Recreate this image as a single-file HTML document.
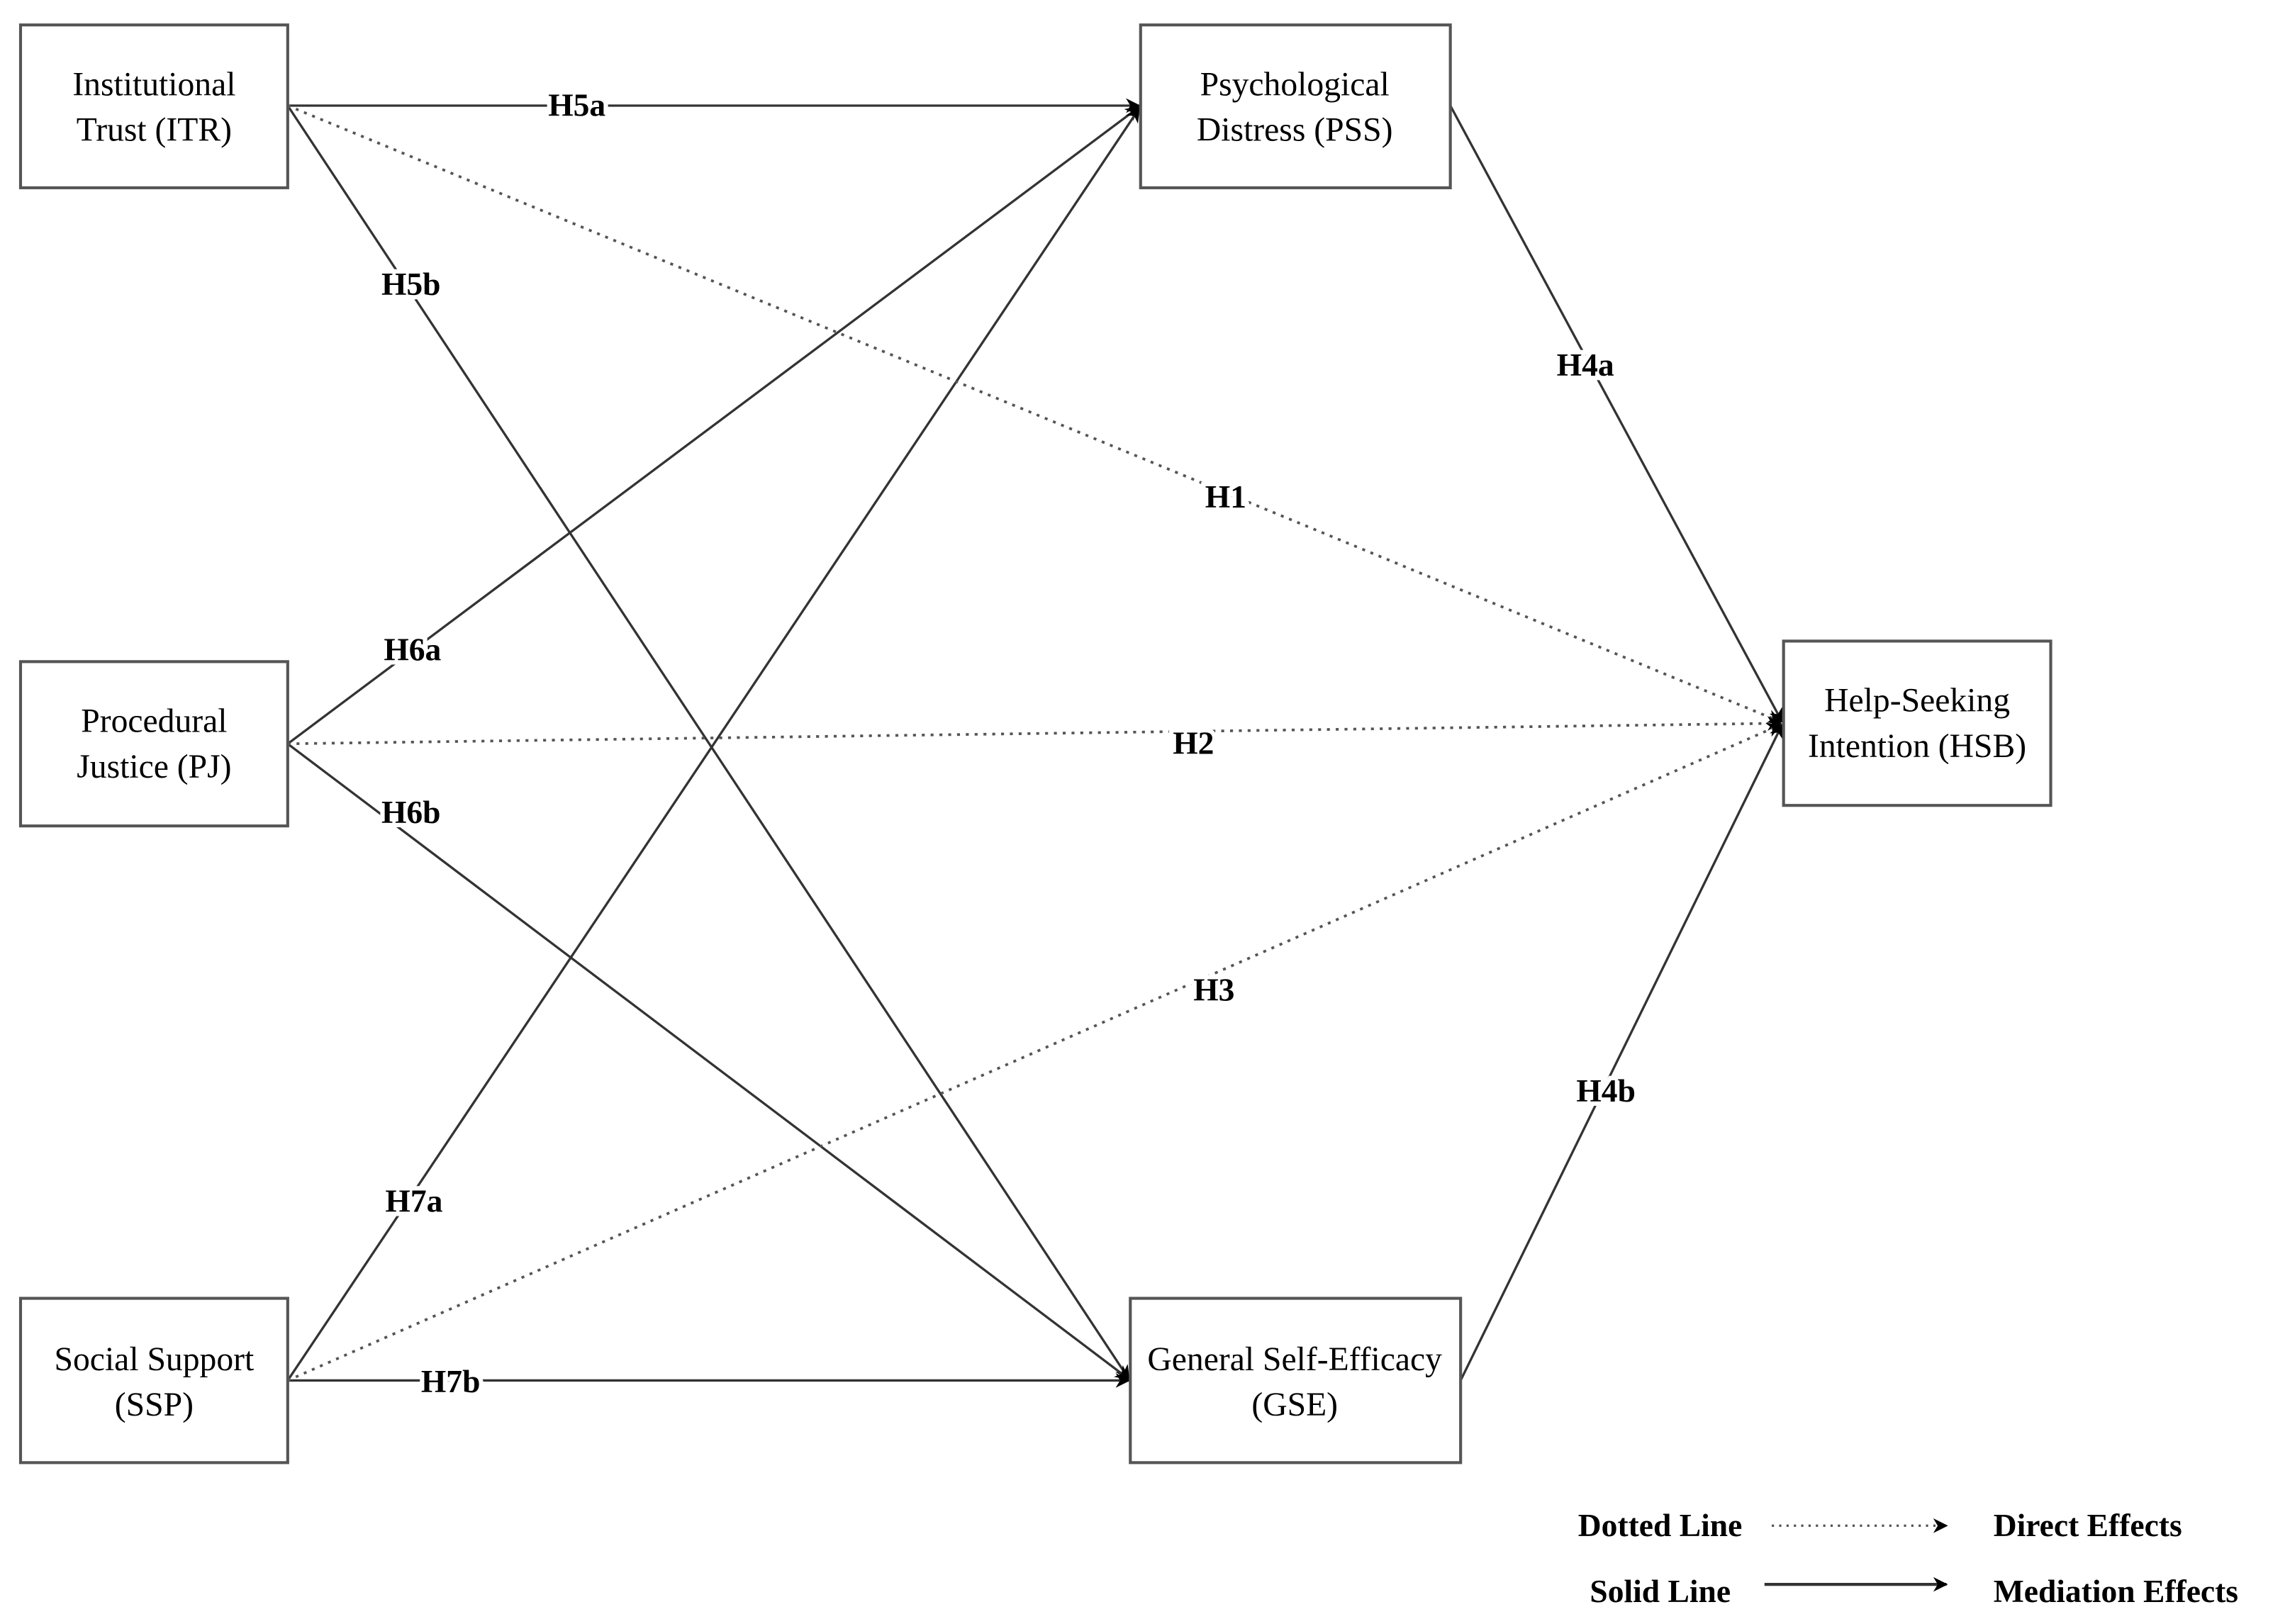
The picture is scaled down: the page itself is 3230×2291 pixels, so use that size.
<!DOCTYPE html>
<html><head><meta charset="utf-8"><style>html,body{margin:0;padding:0;background:#fff}svg{display:block}</style></head>
<body>
<svg width="3230" height="2291" viewBox="0 0 1560 1107" preserveAspectRatio="none" xmlns="http://www.w3.org/2000/svg" font-family="'Liberation Serif', serif">
<defs>
<marker id="a" markerWidth="10" markerHeight="10" refX="9" refY="5" orient="auto" markerUnits="userSpaceOnUse"><path d="M0,0 L10,5 L0,10 L3,5 Z" fill="#000"/></marker>
</defs>
<g fill="none" stroke="#333" stroke-width="1.6">
<line x1="196" y1="72" x2="776" y2="72" marker-end="url(#a)"/>
<line x1="196" y1="72" x2="769" y2="940" marker-end="url(#a)"/>
<line x1="196" y1="507" x2="776" y2="73" marker-end="url(#a)"/>
<line x1="196" y1="507" x2="769" y2="940" marker-end="url(#a)"/>
<line x1="196" y1="941" x2="776" y2="74" marker-end="url(#a)"/>
<line x1="196" y1="941" x2="769" y2="941" marker-end="url(#a)"/>
<line x1="988" y1="72" x2="1214" y2="492" marker-end="url(#a)"/>
<line x1="995" y1="941" x2="1214" y2="494" marker-end="url(#a)"/>
</g>
<g fill="none" stroke="#555" stroke-width="1.8" stroke-dasharray="2,4">
<line x1="196" y1="72" x2="1213" y2="492" marker-end="url(#a)"/>
<line x1="196" y1="507" x2="1213" y2="493" marker-end="url(#a)"/>
<line x1="196" y1="941" x2="1213" y2="494" marker-end="url(#a)"/>
</g>
<g fill="#fff" stroke="#555" stroke-width="2">
<rect x="14" y="17" width="182" height="111"/>
<rect x="777" y="17" width="211" height="111"/>
<rect x="14" y="451" width="182" height="112"/>
<rect x="1215" y="437" width="182" height="112"/>
<rect x="14" y="885" width="182" height="112"/>
<rect x="770" y="885" width="225" height="112"/>
</g>
<g font-size="23" text-anchor="middle" fill="#000">
<text x="105" y="65">Institutional</text><text x="105" y="96">Trust (ITR)</text>
<text x="882" y="65">Psychological</text><text x="882" y="96">Distress (PSS)</text>
<text x="105" y="499">Procedural</text><text x="105" y="530">Justice (PJ)</text>
<text x="1306" y="485">Help-Seeking</text><text x="1306" y="516">Intention (HSB)</text>
<text x="105" y="934">Social Support</text><text x="105" y="965">(SSP)</text>
<text x="882" y="934">General Self-Efficacy</text><text x="882" y="965">(GSE)</text>
</g>
<g font-size="22" font-weight="bold" text-anchor="middle" fill="#000" stroke="#fff" stroke-width="6" paint-order="stroke">
<text x="393" y="79">H5a</text>
<text x="280" y="201">H5b</text>
<text x="835" y="346">H1</text>
<text x="1080" y="256">H4a</text>
<text x="281" y="450">H6a</text>
<text x="813" y="514">H2</text>
<text x="280" y="561">H6b</text>
<text x="827" y="682">H3</text>
<text x="1094" y="751">H4b</text>
<text x="282" y="826">H7a</text>
<text x="307" y="949">H7b</text>
</g>
<g font-size="22" font-weight="bold" fill="#000">
<text x="1075" y="1047">Dotted Line</text>
<text x="1358" y="1047">Direct Effects</text>
<text x="1083" y="1092">Solid Line</text>
<text x="1358" y="1092">Mediation Effects</text>
</g>
<line x1="1207" y1="1040" x2="1326" y2="1040" stroke="#555" stroke-width="1.6" stroke-dasharray="1.5,3.5" marker-end="url(#a)"/>
<line x1="1202" y1="1080" x2="1326" y2="1080" stroke="#333" stroke-width="2" marker-end="url(#a)"/>
</svg>
</body></html>
